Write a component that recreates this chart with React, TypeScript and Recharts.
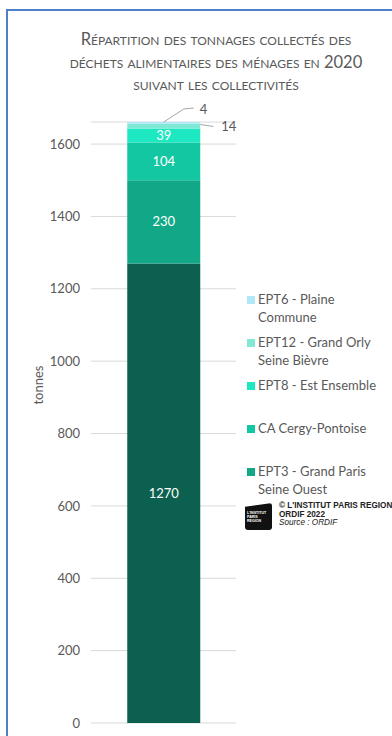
import React from 'react';
import { BarChart, Bar, XAxis, YAxis, CartesianGrid, LabelList } from 'recharts';

const categories = ['2020'];
const parisValues = [1270];
const gpsoValues = [230];
const cergyValues = [104];
const estEnsembleValues = [39];
const grandOrlyValues = [14];
const plaineCommuneValues = [4];
const seriesNames = [
  'Paris',
  'EPT3 - Grand Paris Seine Ouest',
  'CA Cergy-Pontoise',
  'EPT8 - Est Ensemble',
  'EPT12 - Grand Orly Seine Bièvre',
  'EPT6 - Plaine Commune',
];
const seriesColors = ['#0b604f', '#12a887', '#14c7a3', '#1de8c1', '#7fe9d5', '#afe8f6'];
const yTicks = [0, 200, 400, 600, 800, 1000, 1200, 1400, 1600];
const titleLines = [
  'Répartition des tonnages collectés des',
  'déchets alimentaires des ménages en 2020',
  'suivant les collectivités',
];

const seriesValues = [parisValues, gpsoValues, cergyValues, estEnsembleValues, grandOrlyValues, plaineCommuneValues];
const data = categories.map((c, i) => {
  const row: any = { name: c };
  seriesValues.forEach((vals, s) => {
    row['s' + s] = vals[i];
  });
  return row;
});

const FONT = 'Lato, "Open Sans", sans-serif';
const GREY = '#595959';

const insideLabel = (props: any) => {
  const vb = props.viewBox || props;
  const x = vb.x, y = vb.y, w = vb.width, h = vb.height;
  return (
    <text x={x + w / 2} y={y + h / 2} dy={4.5} textAnchor="middle" fill="#ffffff" fontSize={13} fontFamily={FONT}>
      {props.value}
    </text>
  );
};

const rightLabel = (props: any) => {
  const vb = props.viewBox || props;
  const x = vb.x, y = vb.y, w = vb.width, h = vb.height;
  const cy = y + h / 2;
  return (
    <g>
      <line x1={x + w} y1={cy - 1.5} x2={x + w + 13} y2={cy + 0.5} stroke="#a6a6a6" strokeWidth={1} />
      <text x={x + w + 21} y={cy + 5.5} fill={GREY} fontSize={13} fontFamily={FONT}>
        {props.value}
      </text>
    </g>
  );
};

const topLabel = (props: any) => {
  const vb = props.viewBox || props;
  const x = vb.x, y = vb.y, w = vb.width;
  const cx = x + w / 2;
  return (
    <g>
      <polyline
        points={`${cx},${y} ${cx + 20},${y - 13} ${cx + 30},${y - 14}`}
        fill="none"
        stroke="#a6a6a6"
        strokeWidth={1}
      />
      <text x={cx + 36} y={y - 8.5} fill={GREY} fontSize={13} fontFamily={FONT}>
        {props.value}
      </text>
    </g>
  );
};

export default function App() {
  const legendItems = seriesNames
    .map((n, i) => ({ name: n, color: seriesColors[i], i }))
    .filter((it) => it.i > 0)
    .reverse();
  return (
    <div style={{ position: 'fixed', left: 0, top: 0, width: 392, height: 736, overflow: 'hidden', background: '#fff' }}>
      <div
        style={{
          position: 'absolute',
          left: 6,
          top: 9,
          width: 420,
          height: 760,
          borderLeft: '2px solid #4f7fc8',
          borderTop: '2px solid #4f7fc8',
        }}
      />
      <div
        style={{
          position: 'absolute',
          left: 40,
          top: 28,
          width: 352,
          textAlign: 'center',
          fontFamily: FONT,
          fontSize: 16.5,
          fontVariant: 'small-caps',
          color: GREY,
          lineHeight: '22.5px',
        }}
      >
        {titleLines.map((l) => (
          <div key={l}>{l}</div>
        ))}
      </div>
      <div style={{ position: 'absolute', left: 0, top: 0 }}>
        <BarChart
          width={392}
          height={736}
          data={data}
          margin={{ top: 122, right: 156, bottom: 13, left: 0 }}
          barCategoryGap="25%"
        >
          <CartesianGrid vertical={false} stroke="#d9d9d9" strokeWidth={1} />
          <XAxis dataKey="name" hide />
          <YAxis
            width={91}
            domain={[0, 'dataMax']}
            ticks={yTicks}
            axisLine={false}
            tickLine={false}
            tickMargin={5}
            tick={{ fontSize: 13, fill: GREY, fontFamily: FONT }}
            label={{
              content: () => (
                <text
                  x={38}
                  y={385}
                  transform="rotate(-90 38 385)"
                  textAnchor="middle"
                  dominantBaseline="central"
                  fill={GREY}
                  fontSize={13}
                  fontFamily={FONT}
                >
                  tonnes
                </text>
              ),
            }}
          />
          {seriesNames.map((name, s) => (
            <Bar
              key={name}
              dataKey={'s' + s}
              name={name}
              stackId="a"
              fill={seriesColors[s]}
              isAnimationActive={false}
            >
              <LabelList
                dataKey={'s' + s}
                content={s < 4 ? insideLabel : s === 4 ? rightLabel : topLabel}
              />
            </Bar>
          ))}
        </BarChart>
      </div>
      <div style={{ position: 'absolute', left: 247, top: 291, fontFamily: FONT, fontSize: 13, color: GREY }}>
        {legendItems.map((it) => (
          <div key={it.name} style={{ display: 'flex', alignItems: 'flex-start', height: 43 }}>
            <div style={{ width: 8, height: 8, background: it.color, marginTop: 5, marginRight: 3, flexShrink: 0 }} />
            <div style={{ width: 122, lineHeight: '18px', marginTop: -1 }}>{it.name}</div>
          </div>
        ))}
      </div>
      <div
        style={{
          position: 'absolute',
          left: 245,
          top: 503,
          width: 27,
          height: 27,
          background: '#111',
          borderRadius: 3,
          clipPath: 'polygon(0 14%, 100% 0, 100% 100%, 0 100%)',
        }}
      >
        <div style={{ fontFamily: '"Liberation Sans", Arial', fontSize: 3.6, color: '#fff', lineHeight: '4.2px', padding: '8px 0 0 2px', fontWeight: 'bold' }}>
          L'INSTITUT<br />PARIS<br />REGION
        </div>
      </div>
      <div
        style={{
          position: 'absolute',
          left: 279,
          top: 502,
          fontFamily: '"Liberation Sans", Arial, sans-serif',
          fontSize: 8.2,
          lineHeight: '8.7px',
          color: '#222',
          whiteSpace: 'nowrap',
        }}
      >
        <div style={{ fontWeight: 'bold' }}>© L'INSTITUT PARIS REGION</div>
        <div style={{ fontWeight: 'bold' }}>ORDIF 2022</div>
        <div style={{ fontStyle: 'italic' }}>Source : ORDIF</div>
      </div>
    </div>
  );
}
